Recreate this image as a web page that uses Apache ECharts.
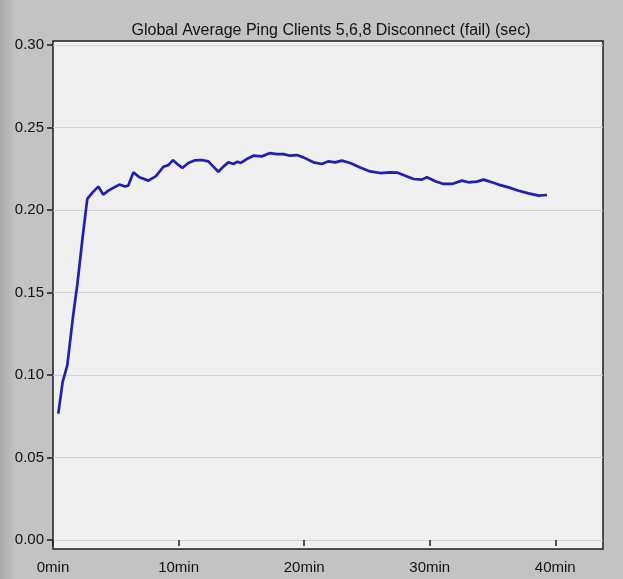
<!DOCTYPE html>
<html>
<head>
<meta charset="utf-8">
<script src="https://cdn.jsdelivr.net/npm/echarts@6/dist/echarts.min.js"></script>
<style>
  html, body { margin: 0; padding: 0; background: #c3c3c3; }
  #chart { width: 623px; height: 579px; }
</style>
</head>
<body>
<div id="chart"></div>
<script>
// minutes since start
const times = [
  0.42, 0.77, 1.14, 1.62, 1.94, 2.36, 2.73, 3.16, 3.61, 4.0,
  4.41, 4.8, 5.28, 5.74, 6.0, 6.4, 6.88, 7.6, 8.2, 8.79,
  9.19, 9.56, 9.9, 10.3, 10.78, 11.31, 11.85, 12.37, 12.77, 13.17,
  13.57, 13.97, 14.37, 14.69, 14.95, 15.43, 15.96, 16.63, 17.29, 17.82,
  18.35, 18.88, 19.42, 19.94, 20.74, 21.41, 21.94, 22.47, 23.0, 23.67,
  24.46, 25.26, 26.06, 26.85, 27.45, 28.05, 28.71, 29.38, 29.78, 30.44,
  31.1, 31.77, 32.57, 33.09, 33.76, 34.29, 34.95, 35.48, 36.28, 37.08,
  37.87, 38.67, 39.34
];
// ping in seconds
const pingSec = [
  0.0766, 0.0958, 0.106, 0.137, 0.155, 0.1835, 0.2067, 0.2107, 0.2142, 0.2093,
  0.2117, 0.2134, 0.2154, 0.2142, 0.2148, 0.2228, 0.2198, 0.2178, 0.2205, 0.2262,
  0.2272, 0.2302, 0.2279, 0.2255, 0.2285, 0.2301, 0.2303, 0.2295, 0.2263, 0.2232,
  0.2263, 0.2289, 0.2279, 0.2293, 0.2285, 0.2309, 0.2329, 0.2325, 0.2345, 0.2339,
  0.2339, 0.2329, 0.2333, 0.2319, 0.2289, 0.2279, 0.2295, 0.2289, 0.2299, 0.2285,
  0.2258, 0.2234, 0.2224, 0.2228, 0.2226, 0.2208, 0.2188, 0.2184, 0.2198, 0.2174,
  0.2158, 0.2158, 0.2178, 0.2168, 0.2172, 0.2184, 0.2168, 0.2154, 0.2137, 0.2117,
  0.2101, 0.2087, 0.2091
];
const xTicks = [0, 10, 20, 30, 40];
const titleText = "Global Average Ping Clients 5,6,8 Disconnect (fail) (sec)";

const FONT = "'Liberation Sans', Arial, sans-serif";

const chart = echarts.init(document.getElementById("chart"));

chart.setOption({
  backgroundColor: "#c3c3c3",
  animation: false,
  textStyle: { fontFamily: FONT },
  title: {
    text: titleText,
    left: 326,
    textAlign: "center",
    top: 18,
    textStyle: { fontSize: 16, fontWeight: "normal", color: "#111", fontFamily: FONT },
  },
  graphic: [
    {
      // darker strip on the left edge of the window
      type: "rect",
      left: 0,
      top: 0,
      shape: { width: 16, height: 579 },
      style: {
        fill: new echarts.graphic.LinearGradient(0, 0, 1, 0, [
          { offset: 0, color: "#a9a9a9" },
          { offset: 1, color: "#c3c3c3" },
        ]),
      },
      z: -1,
    },
  ],
  grid: [
    // frame
    {
      left: 53, right: 20, top: 41, bottom: 30,
      show: true,
      backgroundColor: "#f0f0f0",
      borderColor: "#1c1c1c",
      borderWidth: 1.5,
    },
    // data area
    { left: 53, right: 20, top: 45, bottom: 39 },
  ],
  xAxis: [
    { gridIndex: 0, type: "value", min: 0, max: 1, show: false },
    {
      gridIndex: 1,
      type: "value",
      min: 0,
      max: 43.8,
      offset: 9,
      axisLine: { show: false },
      axisTick: { show: true, length: 6, customValues: xTicks, lineStyle: { color: "#1c1c1c", width: 1.5 } },
      axisLabel: {
        customValues: xTicks,
        margin: 11,
        fontSize: 15,
        color: "#111",
        formatter: (v) => v + "min",
      },
      splitLine: { show: false },
    },
  ],
  yAxis: [
    { gridIndex: 0, type: "value", min: 0, max: 1, show: false },
    {
      gridIndex: 1,
      type: "value",
      min: 0,
      max: 0.3,
      interval: 0.05,
      axisLine: { show: false },
      axisTick: { show: true, length: 6, lineStyle: { color: "#1c1c1c", width: 1.5 } },
      axisLabel: {
        margin: 9,
        fontSize: 15,
        color: "#111",
        formatter: (v) => v.toFixed(2),
      },
      splitLine: { show: true, lineStyle: { color: "#d2d2d2", width: 1 } },
    },
  ],
  series: [
    {
      name: "Ping",
      type: "line",
      xAxisIndex: 1,
      yAxisIndex: 1,
      data: times.map((t, i) => [t, pingSec[i]]),
      symbol: "none",
      lineStyle: { color: "#1f1fb8", width: 2.7 },
      z: 5,
    },
  ],
});
</script>
</body>
</html>
